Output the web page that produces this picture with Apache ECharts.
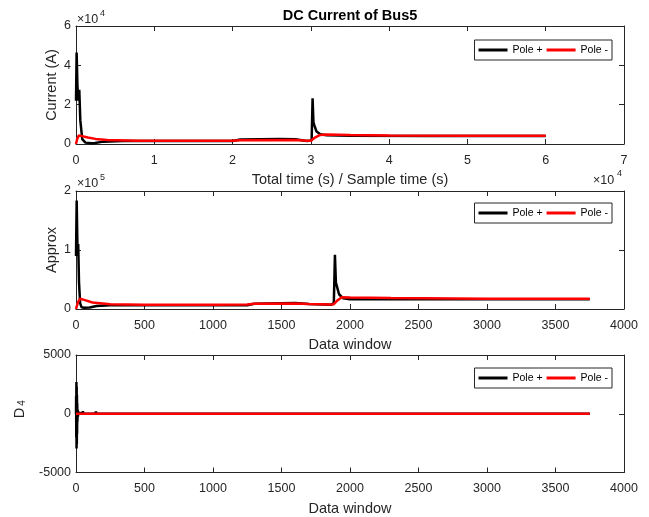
<!DOCTYPE html>
<html>
<head>
<meta charset="utf-8">
<script src="https://cdn.jsdelivr.net/npm/echarts@6/dist/echarts.min.js"></script>
<style>
html, body { margin: 0; padding: 0; background: #fff; }
#chart { width: 649px; height: 517px; }
</style>
</head>
<body>
<div id="chart"></div>
<script>
// ---- DC current of Bus5 (samples, A) ----
const currentPosX = [0, 80, 180, 300, 420, 550, 800, 1200, 2000, 2400, 3500, 6000, 10000, 20000, 21000, 26000, 28000, 29500, 30100, 30220, 30330, 30450, 30700, 31200, 32000, 35000, 45000, 60000];
const currentPosY = [22000, 46500, 30000, 22000, 27500, 12000, 2500, 700, 400, 500, 1200, 1500, 1500, 1500, 2300, 2500, 2400, 1500, 1800, 23200, 11000, 9500, 6500, 5000, 4500, 4200, 4100, 4100];
const currentNegX = [0, 150, 350, 800, 1500, 2500, 4000, 8000, 20000, 21000, 28000, 29500, 30000, 30500, 31200, 32000, 35000, 40000, 50000, 60000];
const currentNegY = [0, 2500, 4300, 4000, 3300, 2600, 2000, 1600, 1600, 1900, 2000, 1700, 1700, 3200, 4600, 4800, 4600, 4300, 4200, 4200];

// ---- Approximation coefficients per data window ----
const approxPosX = [0, 5, 9, 12, 16, 22, 30, 40, 60, 100, 150, 250, 750, 1250, 1300, 1600, 1700, 1860, 1882, 1890, 1897, 1905, 1920, 1950, 2000, 2200, 3000, 3750];
const approxPosY = [90000, 184000, 125000, 95000, 110000, 45000, 10000, 3000, 2000, 2500, 5000, 6500, 6500, 6500, 9000, 10000, 8500, 7000, 10000, 92000, 45000, 38000, 25000, 18000, 16500, 16500, 16500, 16500];
const approxNegX = [0, 15, 30, 60, 120, 250, 500, 1000, 1250, 1300, 1600, 1700, 1860, 1880, 1910, 1940, 2000, 2300, 3000, 3750];
const approxNegY = [0, 12000, 17500, 15500, 11000, 8000, 7000, 7000, 7500, 9000, 9500, 8500, 7500, 8000, 15000, 20000, 19500, 18500, 17500, 17500];

// ---- Level-4 detail coefficients per data window ----
const detailPosX = [0, 1, 2, 3, 4, 5, 6, 7, 8, 9, 10, 12, 14, 16, 20, 30, 45, 50, 55, 140, 145, 150, 3750];
const detailPosY = [0, 1500, -2000, 2700, -2950, 2300, -2600, 1600, -1700, 900, -700, 350, -250, 120, 0, 0, 0, 200, 0, 0, 180, 0, 0];
const detailNegX = [0, 2, 4, 6, 10, 3750];
const detailNegY = [0, 150, -150, 100, 0, 0];

const seriesNames = ['Pole +', 'Pole -'];
const seriesColors = ['#000000', '#ff0000'];

const FONT = "'Liberation Sans', Arial, Helvetica, sans-serif";
const AX = '#262626';

function pairs(xs, ys) { return xs.map((x, i) => [x, ys[i]]); }

const plain = v => String(v);
const div1e4 = v => String(v / 1e4);
const div1e5 = v => String(v / 1e5);

function xAxes(grid, min, max, step, fmt, name) {
  const base = {
    type: 'value', gridIndex: grid, min: min, max: max, interval: step,
    axisLine: { show: true, onZero: false, lineStyle: { color: AX, width: 1 } },
    axisTick: { show: true, inside: true, length: 5, lineStyle: { color: AX, width: 1 } },
    splitLine: { show: false }
  };
  return [
    Object.assign({}, base, {
      position: 'bottom',
      axisLabel: { show: true, margin: 10, color: AX, fontSize: 12.5, fontFamily: FONT, formatter: fmt },
      name: name, nameLocation: 'middle', nameGap: 28.5, nameMoveOverlap: false,
      nameTextStyle: { color: AX, fontSize: 14.5, fontFamily: FONT }
    }),
    Object.assign({}, base, { position: 'top', axisLabel: { show: false } })
  ];
}

function yAxes(grid, min, max, step, fmt, name) {
  const base = {
    type: 'value', gridIndex: grid, min: min, max: max, interval: step,
    axisLine: { show: true, onZero: false, lineStyle: { color: AX, width: 1 } },
    axisTick: { show: true, inside: true, length: 5, lineStyle: { color: AX, width: 1 } },
    splitLine: { show: false }
  };
  return [
    Object.assign({}, base, {
      position: 'left',
      axisLabel: { show: true, margin: 5, color: AX, fontSize: 12.5, fontFamily: FONT, formatter: fmt },
      name: name, nameLocation: 'middle', nameGap: 17, nameMoveOverlap: false,
      nameTextStyle: { color: AX, fontSize: 14.5, fontFamily: FONT }
    }),
    Object.assign({}, base, { position: 'right', axisLabel: { show: false } })
  ];
}

function lineSeries(idx, name, color, xs, ys) {
  return {
    type: 'line', name: name, xAxisIndex: idx * 2, yAxisIndex: idx * 2,
    data: pairs(xs, ys), symbol: 'none', showSymbol: false, smooth: false,
    lineStyle: { color: color, width: 2.5 }, itemStyle: { color: color },
    animation: false
  };
}

function legendAt(top) {
  return {
    data: seriesNames, right: 37, top: top, orient: 'horizontal',
    backgroundColor: '#ffffff', borderColor: AX, borderWidth: 1, borderRadius: 0,
    padding: [3, 4, 3, 4], icon: 'rect', itemWidth: 29, itemHeight: 3, itemGap: 4,
    textStyle: { color: '#000', fontSize: 10.5, lineHeight: 14, fontFamily: FONT },
    selectedMode: false
  };
}

function tx(x, y, text, size, extra) {
  return Object.assign({
    type: 'text', x: x, y: y,
    style: { text: text, fill: AX, fontSize: size, fontFamily: FONT,
             textAlign: 'left', verticalAlign: 'middle', textVerticalAlign: 'middle' }
  }, extra || {});
}

function vtx(x, y, text, size) {
  return {
    type: 'text', x: x, y: y, rotation: Math.PI / 2,
    style: { text: text, fill: AX, fontSize: size, fontFamily: FONT,
             textAlign: 'center', verticalAlign: 'middle', textVerticalAlign: 'middle' }
  };
}

const chart = echarts.init(document.getElementById('chart'), null, { renderer: 'canvas' });
chart.setOption({
  backgroundColor: '#ffffff',
  animation: false,
  title: {
    text: 'DC Current of Bus5', left: 350, textAlign: 'center', top: 8, padding: 0,
    textStyle: { color: '#000', fontSize: 14.5, fontWeight: 'bold', fontFamily: FONT }
  },
  legend: [legendAt(40), legendAt(203), legendAt(368)],
  grid: [
    { left: 76, top: 26, width: 548, height: 118 },
    { left: 76, top: 191, width: 548, height: 118 },
    { left: 76, top: 355, width: 548, height: 118 }
  ],
  xAxis: [].concat(
    xAxes(0, 0, 70000, 10000, div1e4, 'Total time (s) / Sample time (s)'),
    xAxes(1, 0, 4000, 500, plain, 'Data window'),
    xAxes(2, 0, 4000, 500, plain, 'Data window')
  ),
  yAxis: [].concat(
    yAxes(0, 0, 60000, 20000, div1e4, 'Current (A)'),
    yAxes(1, 0, 200000, 100000, div1e5, 'Approx'),
    yAxes(2, -5000, 5000, 5000, plain, '')
  ),
  graphic: [
    tx(77, 19.5, '×10', 12.5), tx(100, 13.5, '4', 9),
    tx(593, 181, '×10', 12.5), tx(617, 174, '4', 9),
    tx(77, 184, '×10', 12.5), tx(100, 178, '5', 9),
    vtx(19.5, 413, 'D', 14.5),
    vtx(22.5, 403, '4', 10)
  ],
  series: [
    lineSeries(0, seriesNames[0], seriesColors[0], currentPosX, currentPosY),
    lineSeries(0, seriesNames[1], seriesColors[1], currentNegX, currentNegY),
    lineSeries(1, seriesNames[0], seriesColors[0], approxPosX, approxPosY),
    lineSeries(1, seriesNames[1], seriesColors[1], approxNegX, approxNegY),
    lineSeries(2, seriesNames[0], seriesColors[0], detailPosX, detailPosY),
    lineSeries(2, seriesNames[1], seriesColors[1], detailNegX, detailNegY)
  ]
});
</script>
</body>
</html>
